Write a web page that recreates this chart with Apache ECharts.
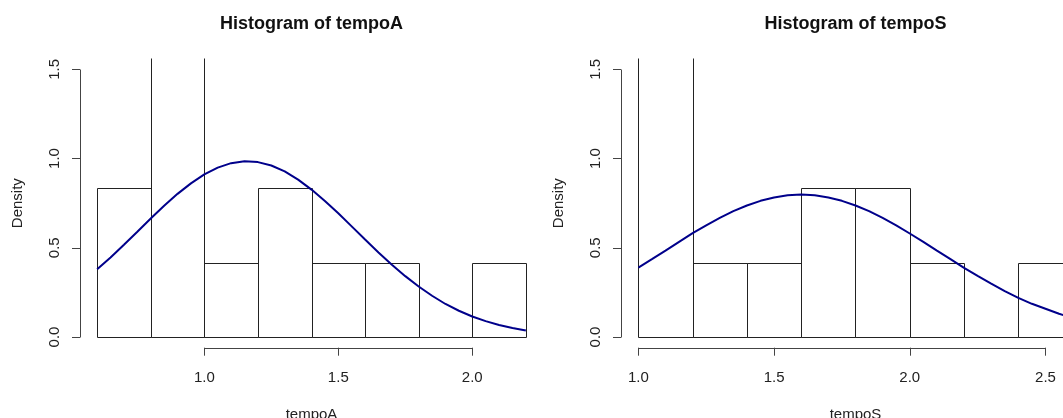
<!DOCTYPE html>
<html>
<head>
<meta charset="utf-8">
<script src="https://cdn.jsdelivr.net/npm/echarts@6/dist/echarts.min.js"></script>
<style>
  html, body { margin: 0; padding: 0; background: #fff; }
  #chart { width: 1063px; height: 418px; }
</style>
</head>
<body>
<div id="chart"></div>
<script>
// histogram breaks and densities (n = 12, bin width 0.2)
var breaksA = [0.6, 0.8, 1.0, 1.2, 1.4, 1.6, 1.8, 2.0, 2.2];
var densityA = [0.833, 1.667, 0.417, 0.833, 0.417, 0.417, 0, 0.417];
var breaksS = [1.0, 1.2, 1.4, 1.6, 1.8, 2.0, 2.2, 2.4, 2.6];
var densityS = [1.667, 0.417, 0.417, 0.833, 0.833, 0.417, 0, 0.417];

// density curves
var curveAx = [0.6, 0.65, 0.7, 0.75, 0.8, 0.85, 0.9, 0.95, 1.0, 1.05, 1.1, 1.15, 1.2, 1.25, 1.3, 1.35, 1.4,
               1.45, 1.5, 1.55, 1.6, 1.65, 1.7, 1.75, 1.8, 1.85, 1.9, 1.95, 2.0, 2.05, 2.1, 2.15, 2.2];
var curveAy = [0.379, 0.446, 0.517, 0.590, 0.664, 0.735, 0.802, 0.861, 0.911, 0.949, 0.974, 0.985, 0.980, 0.961, 0.928, 0.882, 0.826,
               0.762, 0.693, 0.620, 0.546, 0.474, 0.405, 0.341, 0.283, 0.231, 0.185, 0.147, 0.115, 0.089, 0.067, 0.050, 0.036];
var curveSx = [1.0, 1.05, 1.1, 1.15, 1.2, 1.25, 1.3, 1.35, 1.4, 1.45, 1.5, 1.55, 1.6, 1.65, 1.7, 1.75, 1.8,
               1.85, 1.9, 1.95, 2.0, 2.05, 2.1, 2.15, 2.2, 2.25, 2.3, 2.35, 2.4, 2.45, 2.5, 2.55, 2.6];
var curveSy = [0.389, 0.436, 0.484, 0.533, 0.582, 0.626, 0.667, 0.705, 0.737, 0.763, 0.782, 0.794, 0.798, 0.794, 0.782, 0.763, 0.737,
               0.705, 0.667, 0.626, 0.580, 0.533, 0.484, 0.436, 0.387, 0.342, 0.299, 0.257, 0.219, 0.186, 0.158, 0.130, 0.108];

// tick labels
var xTicksA = [1.0, 1.5, 2.0];
var xTicksS = [1.0, 1.5, 2.0, 2.5];
var yTicks = [0, 0.5, 1.0, 1.5];

var titles = ['Histogram of tempoA', 'Histogram of tempoS'];
var xNames = ['tempoA', 'tempoS'];

var FONT = '"Liberation Sans", Arial, sans-serif';
var yMin = -0.06, yMax = 1.56;

function bins(breaks, dens) {
  var out = [];
  for (var i = 0; i < dens.length; i++) {
    out.push([breaks[i], breaks[i + 1], dens[i]]);
  }
  return out;
}

function pairs(xs, ys) {
  return xs.map(function (x, i) { return [x, ys[i]]; });
}

function renderBar(params, api) {
  var p0 = api.coord([api.value(0), 0]);
  var p1 = api.coord([api.value(1), api.value(2)]);
  var x0 = Math.round(p0[0]) + 0.5, x1 = Math.round(p1[0]) + 0.5;
  var yb = Math.round(p0[1]) + 0.5, yt = Math.round(p1[1]) + 0.5;
  return {
    type: 'rect',
    shape: { x: x0, y: yt, width: x1 - x0, height: yb - yt },
    style: { fill: 'none', stroke: '#222', lineWidth: 1 }
  };
}

// R style axis lines: only from first to last tick
function axisRender(xTicks, xMin) {
  return function (params, api) {
    var a = api.coord([xTicks[0], yMin]);
    var b = api.coord([xTicks[xTicks.length - 1], yMin]);
    var c = api.coord([xMin, yTicks[0]]);
    var d = api.coord([xMin, yTicks[yTicks.length - 1]]);
    var sty = { stroke: '#444', lineWidth: 1 };
    return {
      type: 'group',
      children: [
        { type: 'line', shape: { x1: Math.round(a[0]) + 0.5, y1: Math.round(a[1]) + 0.5, x2: Math.round(b[0]) + 0.5, y2: Math.round(b[1]) + 0.5 }, style: sty },
        { type: 'line', shape: { x1: Math.round(c[0]) + 0.5, y1: Math.round(c[1]) + 0.5, x2: Math.round(d[0]) + 0.5, y2: Math.round(d[1]) + 0.5 }, style: sty }
      ]
    };
  };
}

function xAxisOf(idx, min, max, ticks, namePad) {
  return {
    type: 'value', gridIndex: idx, min: min, max: max,
    name: xNames[idx], nameLocation: 'middle', nameGap: 60,
    nameTextStyle: { fontFamily: FONT, fontSize: 15, color: '#222', padding: namePad },
    splitLine: { show: false },
    axisLine: { show: false, onZero: false },
    axisTick: { show: true, customValues: ticks, length: 8, lineStyle: { color: '#444' } },
    axisLabel: {
      customValues: ticks, margin: 23, fontFamily: FONT, fontSize: 15, color: '#222',
      formatter: function (v) { return v.toFixed(1); }
    }
  };
}

function yAxisOf(idx) {
  return {
    type: 'value', gridIndex: idx, min: yMin, max: yMax,
    name: 'Density', nameLocation: 'middle', nameGap: 55,
    nameTextStyle: { fontFamily: FONT, fontSize: 15, color: '#222' },
    splitLine: { show: false },
    axisLine: { show: false, onZero: false },
    axisTick: { show: true, customValues: yTicks, length: 8, lineStyle: { color: '#444' } },
    axisLabel: {
      customValues: yTicks, margin: 18, rotate: 90, fontFamily: FONT, fontSize: 15, color: '#222',
      formatter: function (v) { return v.toFixed(1); }
    }
  };
}

var chart = echarts.init(document.getElementById('chart'));

var option = {
  animation: false,
  backgroundColor: '#fff',
  title: [
    { text: titles[0], left: 311.5, top: 15, padding: 0, textAlign: 'center',
      textStyle: { fontFamily: FONT, fontSize: 18, fontWeight: 'bold', color: '#111' } },
    { text: titles[1], left: 855.5, top: 15, padding: 0, textAlign: 'center',
      textStyle: { fontFamily: FONT, fontSize: 18, fontWeight: 'bold', color: '#111' } }
  ],
  grid: [
    { left: 80, top: 58.6, width: 463, height: 289.1, outerBoundsMode: 'none' },
    // right panel is cut off by the picture edge
    { left: 621, top: 58.6, right: 0, height: 289.1, outerBoundsMode: 'none' }
  ],
  xAxis: [
    xAxisOf(0, 0.536, 2.264, xTicksA, 0),
    xAxisOf(1, 0.936, 2.5646, xTicksS, [0, 0, 0, 27])
  ],
  yAxis: [yAxisOf(0), yAxisOf(1)],
  series: [
    { type: 'custom', xAxisIndex: 0, yAxisIndex: 0, clip: true,
      renderItem: renderBar, data: bins(breaksA, densityA) },
    { type: 'custom', xAxisIndex: 1, yAxisIndex: 1, clip: true,
      renderItem: renderBar, data: bins(breaksS, densityS) },
    { type: 'custom', xAxisIndex: 0, yAxisIndex: 0, clip: false,
      renderItem: axisRender(xTicksA, 0.536), data: [[1, 0]] },
    { type: 'custom', xAxisIndex: 1, yAxisIndex: 1, clip: false,
      renderItem: axisRender(xTicksS, 0.936), data: [[1, 0]] },
    { type: 'line', xAxisIndex: 0, yAxisIndex: 0, smooth: false, symbol: 'none',
      lineStyle: { color: '#00008B', width: 2 }, data: pairs(curveAx, curveAy) },
    { type: 'line', xAxisIndex: 1, yAxisIndex: 1, smooth: false, symbol: 'none',
      lineStyle: { color: '#00008B', width: 2 }, data: pairs(curveSx, curveSy) }
  ]
};

chart.setOption(option);
</script>
</body>
</html>
